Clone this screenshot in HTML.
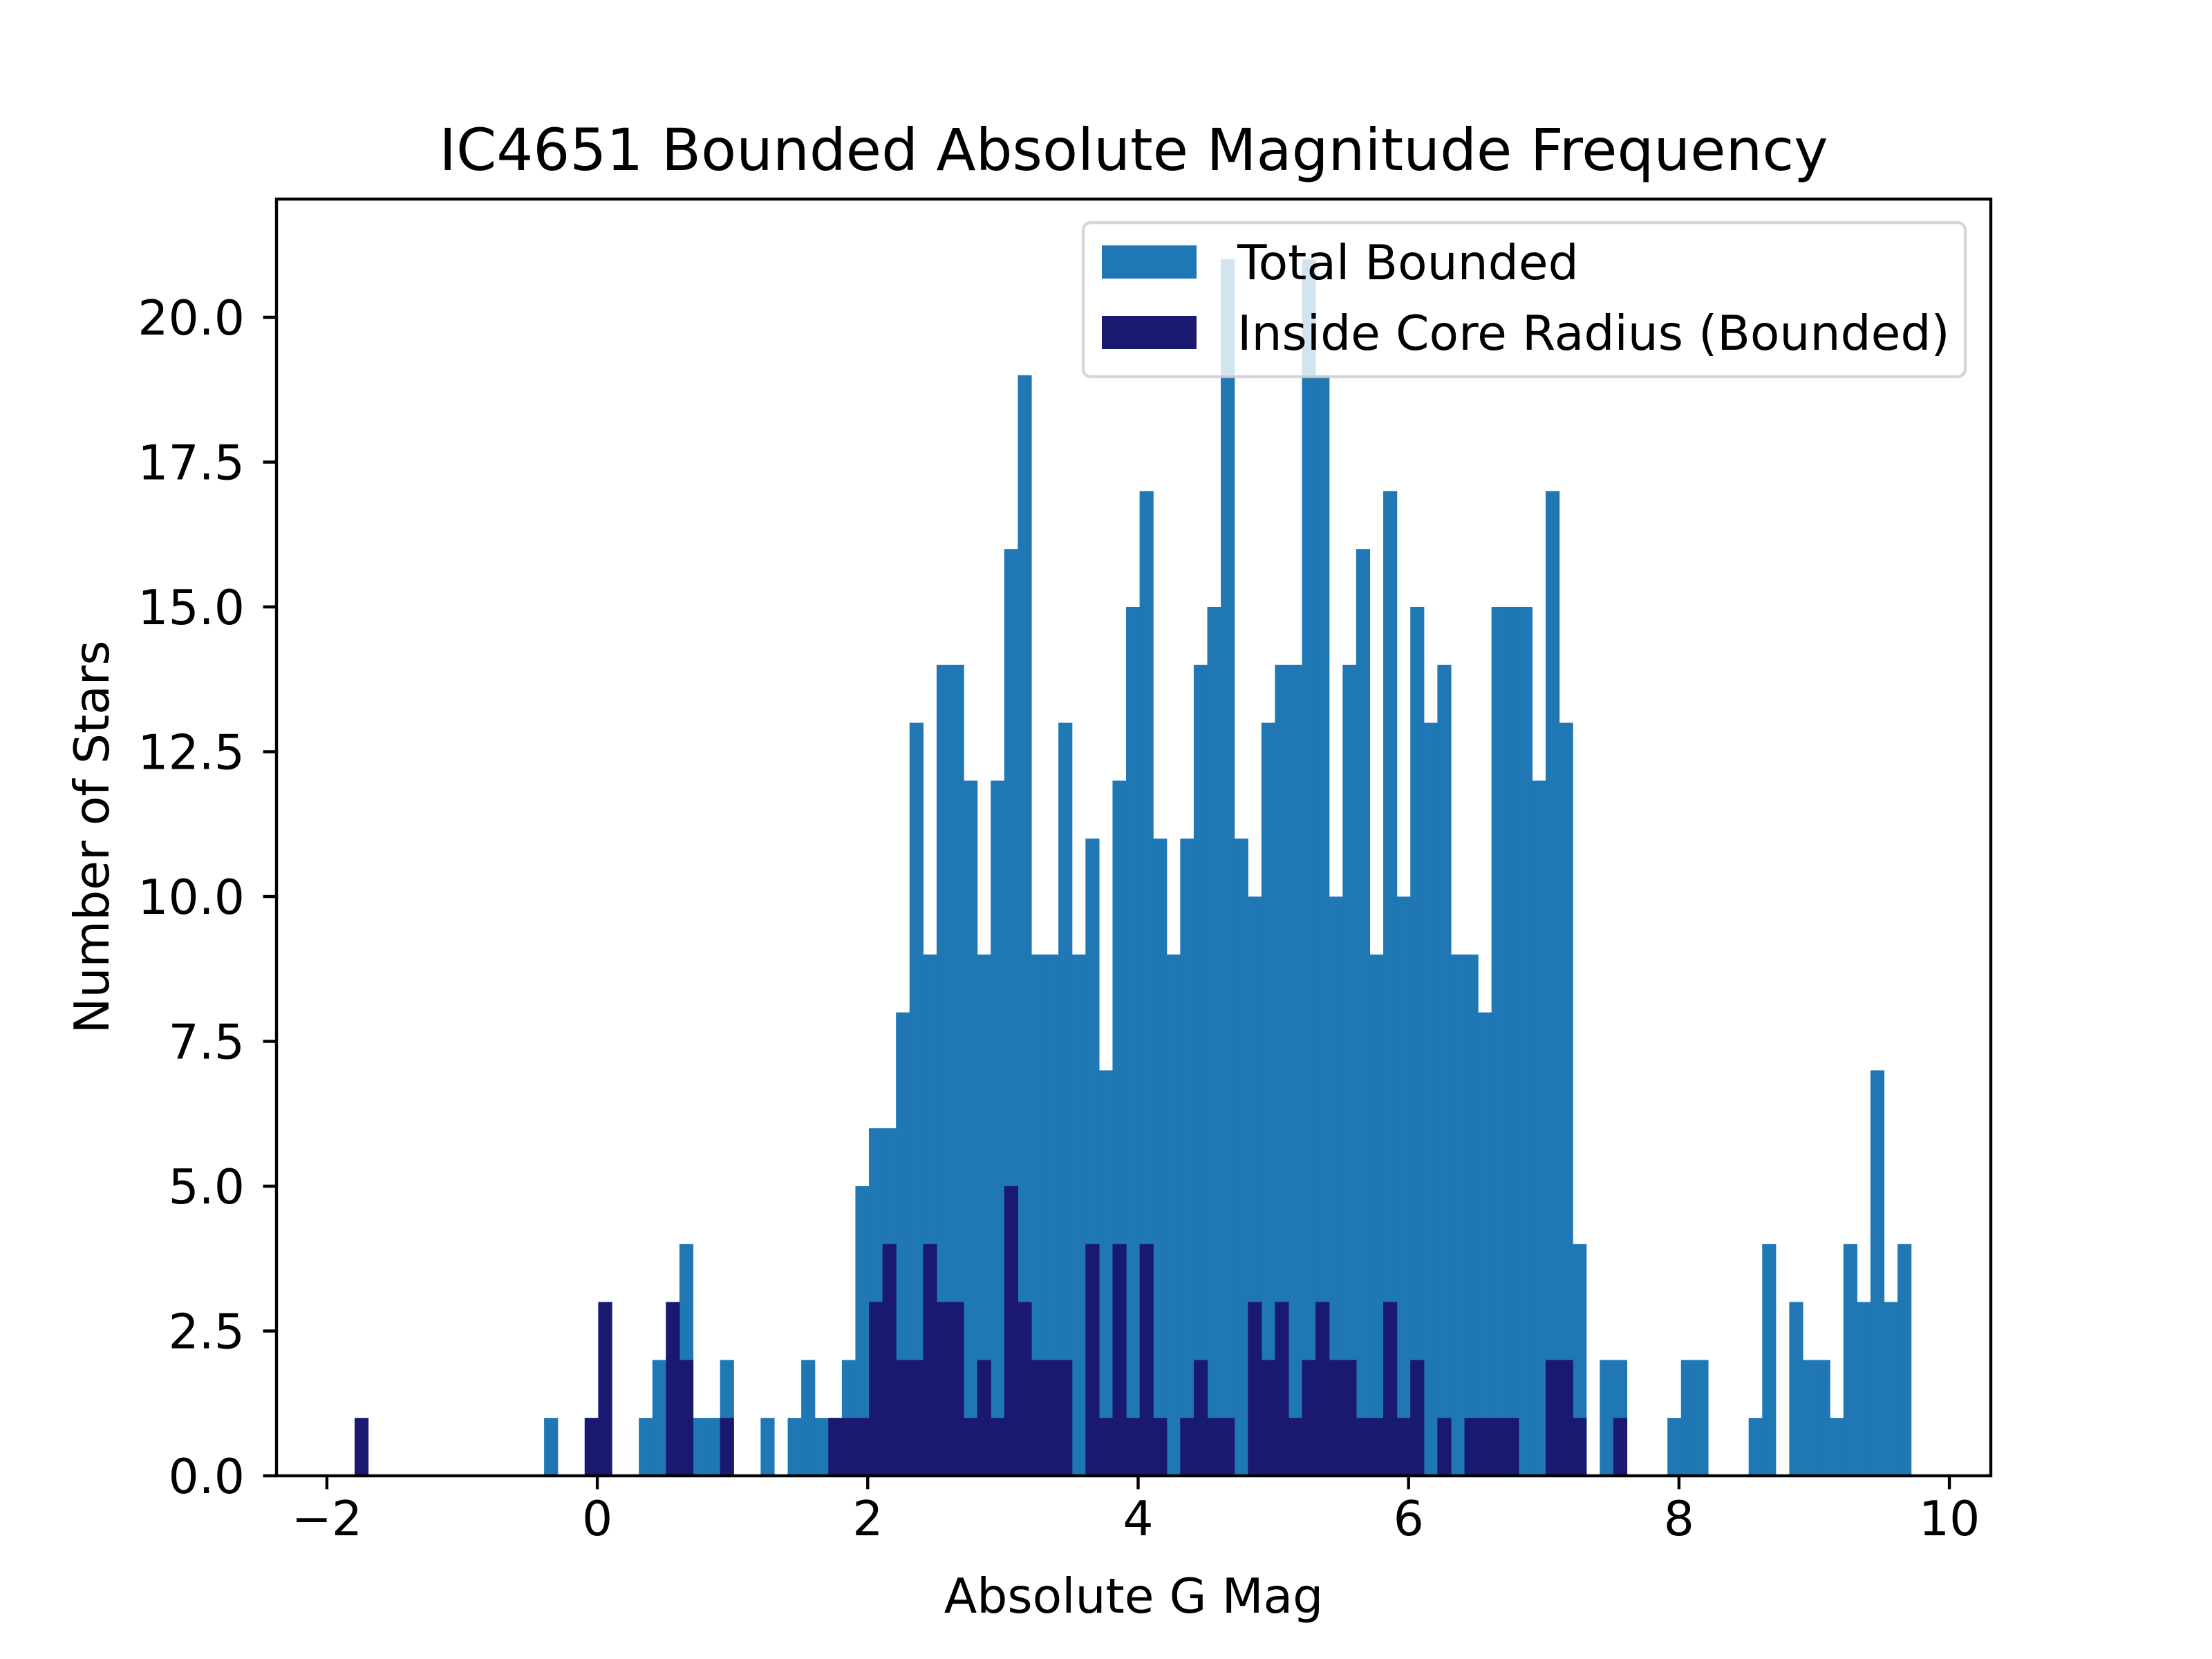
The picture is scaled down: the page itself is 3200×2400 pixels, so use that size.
<!DOCTYPE html>
<html><head><meta charset="utf-8"><style>
html,body{margin:0;padding:0;background:#fff;}
svg{display:block;font-family:"DejaVu Sans","Liberation Sans",sans-serif;}
</style></head><body>
<svg id="chart" width="3200" height="2400" viewBox="0 0 3200 2400" xmlns="http://www.w3.org/2000/svg">
<rect x="0" y="0" width="3200" height="2400" fill="#fff"/>
<g id="bars-total"></g>
<g id="bars-core"></g>
<g id="axes"></g>
<text x="1640" y="246" font-size="83.4" text-anchor="middle">IC4651 Bounded Absolute Magnitude Frequency</text>
<text x="1640" y="2333" font-size="69.5" text-anchor="middle">Absolute G Mag</text>
<text transform="translate(157,1211) rotate(-90)" font-size="69.5" text-anchor="middle">Number of Stars</text>
<g>
<rect x="1567" y="322" width="1276" height="223" rx="11" fill="#fff" fill-opacity="0.8" stroke="#cccccc" stroke-opacity="0.8" stroke-width="4.4"/>
<rect x="1594" y="355" width="137" height="48" fill="#1f77b4"/>
<text x="1790" y="404" font-size="69.5">Total Bounded</text>
<rect x="1594" y="457" width="137" height="48" fill="#191970"/>
<text x="1790" y="506" font-size="69.5">Inside Core Radius (Bounded)</text>
</g>
</svg>
<script>
// bins: common grid starting at -1.795, width 0.1001
const binStart = -1.795;
const binWidth = 0.1001;
const totalFirstBin = 14;
const totalCounts = [1,0,0,1,3,0,0,1,2,3,4,1,1,2,0,0,1,0,1,2,1,1,2,5,6,6,8,13,9,14,14,12,9,12,16,19,9,9,13,9,11,7,12,15,17,11,9,11,14,15,21,11,10,13,14,14,21,19,10,14,16,9,17,10,15,13,14,9,9,8,15,15,15,12,17,13,4,0,2,2,0,0,0,1,2,2,0,0,0,1,4,0,3,2,2,1,4,3,7,3,4];
const coreFirstBin = 0;
const coreCounts = [1,0,0,0,0,0,0,0,0,0,0,0,0,0,0,0,0,1,3,0,0,0,0,3,2,0,0,1,0,0,0,0,0,0,0,1,1,1,3,4,2,2,4,3,3,1,2,1,5,3,2,2,2,0,4,1,4,1,4,1,0,1,2,1,1,0,3,2,3,1,2,3,2,2,1,1,3,1,2,0,1,0,1,1,1,1,0,0,2,2,1,0,0,1];
const xTicks = [-2,0,2,4,6,8,10];
const xTickLabels = ["\u22122","0","2","4","6","8","10"];
const yTicks = [0,2.5,5,7.5,10,12.5,15,17.5,20];
const yTickLabels = ["0.0","2.5","5.0","7.5","10.0","12.5","15.0","17.5","20.0"];

const NS="http://www.w3.org/2000/svg";
const X0=472.9, PXU=195.6, Y0=2135, PYU=83.8;
const L=400,R=2880,T=288,B=2135;
function xs(v){return X0+(v+2)*PXU;}
function ys(c){return Y0-c*PYU;}
function mk(tag,attrs,parent){const e=document.createElementNS(NS,tag);for(const k in attrs)e.setAttribute(k,attrs[k]);parent.appendChild(e);return e;}

function drawBars(counts,first,color,gid,name){
  const g=document.getElementById(gid);
  counts.forEach((c,i)=>{
    if(c<=0)return;
    const k=first+i;
    const a=xs(binStart+k*binWidth), b=xs(binStart+(k+1)*binWidth);
    const r=mk('rect',{x:a,y:ys(c),width:b-a+0.6,height:ys(0)-ys(c),fill:color},g);
    
    
  });
}
drawBars(totalCounts,totalFirstBin,'#1f77b4','bars-total','bar-total');
drawBars(coreCounts,coreFirstBin,'#191970','bars-core','bar-core');

const ax=document.getElementById('axes');
const fr=mk('rect',{x:L,y:T,width:R-L,height:B-T,fill:'none',stroke:'#000','stroke-width':4.4},ax);


xTicks.forEach((v,i)=>{
  const x=xs(v);
  const t=mk('line',{x1:x,x2:x,y1:B,y2:B+19.4,stroke:'#000','stroke-width':4.4},ax);
  
  
  const lb=mk('text',{x:x,y:B+86,'font-size':69.5,'text-anchor':'middle'},ax);
  lb.textContent=xTickLabels[i];
  
  
});
yTicks.forEach((v,i)=>{
  const y=ys(v);
  const t=mk('line',{x1:L-19.4,x2:L,y1:y,y2:y,stroke:'#000','stroke-width':4.4},ax);
  
  
  const lb=mk('text',{x:L-46,y:y+25,'font-size':69.5,'text-anchor':'end'},ax);
  lb.textContent=yTickLabels[i];
  
  
});
</script>
</body></html>
